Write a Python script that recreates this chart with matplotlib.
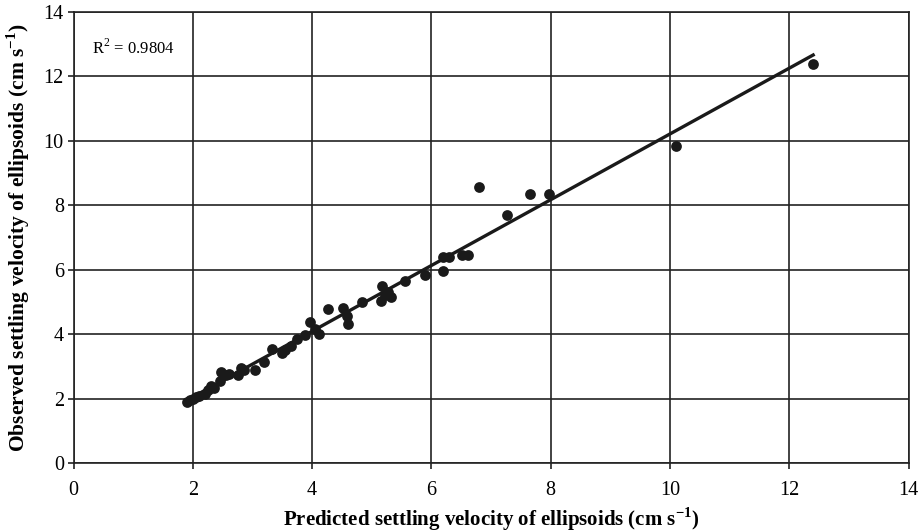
import numpy as np
import matplotlib.pyplot as plt

# predicted vs observed settling velocity (cm/s)
predicted = [1.90, 1.95, 2.00, 2.05, 2.10, 2.20, 2.25, 2.30, 2.35, 2.45,
             2.47, 2.55, 2.60, 2.75, 2.80, 2.85, 3.05, 3.20, 3.33, 3.50,
             3.55, 3.65, 3.75, 3.88, 3.97, 4.05, 4.12, 4.27, 4.52, 4.58,
             4.60, 4.83, 5.15, 5.18, 5.22, 5.28, 5.32, 5.55, 5.90, 6.19,
             6.20, 6.30, 6.52, 6.62, 6.80, 7.27, 7.66, 7.97, 10.10, 12.40]
observed = [1.90, 1.95, 2.00, 2.05, 2.08, 2.15, 2.25, 2.40, 2.33, 2.55,
            2.82, 2.72, 2.75, 2.72, 2.95, 2.90, 2.90, 3.12, 3.55, 3.40,
            3.50, 3.62, 3.85, 3.98, 4.38, 4.15, 4.00, 4.78, 4.80, 4.55,
            4.30, 5.00, 5.02, 5.50, 5.20, 5.30, 5.15, 5.65, 5.83, 5.95,
            6.40, 6.40, 6.45, 6.45, 8.55, 7.68, 8.35, 8.35, 9.82, 12.38]
r2_text = "R$^2$ = 0.9804"

plt.rcParams['font.family'] = 'Liberation Serif'
plt.rcParams['mathtext.fontset'] = 'custom'
plt.rcParams['mathtext.rm'] = 'Liberation Serif'
plt.rcParams['mathtext.bf'] = 'Liberation Serif:bold'

fig = plt.figure(figsize=(9.23, 5.32), dpi=100)
ax = fig.add_axes([73.5 / 923, 1 - 463 / 532, (908.6 - 73.5) / 923, (463 - 11.7) / 532])

x = np.array(predicted)
y = np.array(observed)
slope, intercept = np.polyfit(x, y, 1)
xs = np.array([x.min(), x.max()])
ax.plot(xs, slope * xs + intercept, color='#1a1a1a', lw=2.4, zorder=3)
ax.scatter(x, y, s=60, color='#1a1a1a', zorder=4, linewidths=0)

ax.set_xlim(0, 14)
ax.set_ylim(0, 14)
ax.set_xticks(range(0, 15, 2))
ax.set_yticks(range(0, 15, 2))
ax.grid(True, color='#222222', lw=1.2)
ax.set_axisbelow(True)
for s in ax.spines.values():
    s.set_color('#222222')
    s.set_linewidth(1.2)
ax.tick_params(labelsize=14.5, length=4, width=1.2, color='#222222', pad=3)
ax.tick_params(axis='x', pad=9)

ax.text(0.31, 12.87, r2_text, fontsize=12, va='center')
ax.set_xlabel("Predicted settling velocity of ellipsoids (cm s$^{\\mathbf{-1}}$)",
              fontsize=15, fontweight='bold', labelpad=4)
ax.set_ylabel("Observed settling velocity of ellipsoids (cm s$^{\\mathbf{-1}}$)",
              fontsize=15.5, fontweight='bold', labelpad=8)

fig.savefig("out.png", dpi=100)
